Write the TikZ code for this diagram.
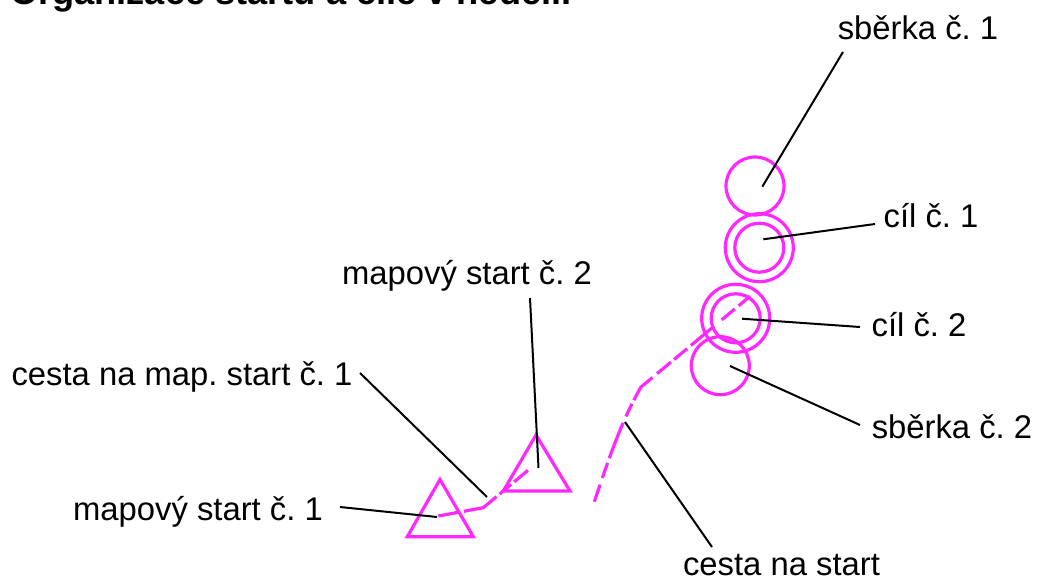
\documentclass[tikz,border=0pt]{standalone}
\usepackage{fontspec}
\setmainfont{Liberation Sans}
\frenchspacing
\definecolor{kurz}{RGB}{255,40,255}
\tikzset{
  % all labels
  popis/.style = {
    inner sep = 0,
    anchor = base,
    font = \fontsize{32.8}{38}\selectfont
  },
  % magenta course symbols
  znacka/.style = {
    draw = kurz,
    line width = 3.2
  },
  kruh/.style = {
    znacka,
    circle,
    inner sep = 0,
    minimum size = #1
  },
  vodic/.style = {
    draw = black,
    line width = 2
  }
}
\begin{document}
\begin{tikzpicture}[x=1pt,y=-1pt]
    \useasboundingbox (0,0) rectangle (1037,580);
    \node[inner sep=0,anchor=base west,font=\fontsize{36.2}{42}\selectfont\bfseries] (nadpis) at (10,5) {Organizace startu a cíle v neděli.};

    \node[popis] (sberka1) at (918,40) {sběrka č. 1};
    \node[popis] (cil1) at (931,228) {cíl č. 1};
    \node[popis] (cil2) at (919,337) {cíl č. 2};
    \node[popis] (sberka2) at (952,438) {sběrka č. 2};
    \node[popis] (mapstart2) at (467,285) {mapový start č. 2};
    \node[popis] (cestamap) at (182,385) {cesta na map. start č. 1};
    \node[popis] (mapstart1) at (198,520) {mapový start č. 1};
    \node[popis] (cestastart) at (781.5,575) {cesta na start};

    % controls
    \node[kruh=58] (kruh1) at (755,186) {};
    \node[kruh=68] (vnejsi1) at (759.3,247.7) {};
    \node[kruh=49] (vnitrni1) at (759.3,247.7) {};
    \node[kruh=68] (vnejsi2) at (735.7,318.3) {};
    \node[kruh=49] (vnitrni2) at (735.7,318.3) {};
    \node[kruh=58] (kruh2) at (720.3,365.7) {};

    % starts
    \draw[znacka] (440,479.5) -- (473.3,536.7) -- (407.3,536.7) -- cycle;
    \draw[znacka] (536,435) -- (570,491) -- (503.3,491) -- cycle;

    % routes
    \coordinate (a0) at (438.3,516);
    \coordinate (a1) at (483.3,507.7);
    \coordinate (a2) at (528.3,470);
    \coordinate (b0) at (594.3,501.7);
    \coordinate (b1) at (641,387);
    \coordinate (b2) at (750.7,295.7);
    \draw[znacka,dash pattern=on 20 off 6 on 37 off 4 on 15 off 4 on 18 off 50] (a0) -- (a1) -- (a2);
    \draw[znacka,dash pattern=on 18 off 7 on 16 off 5 on 38 off 7 on 14 off 4 on 30 off 6 on 18 off 4 on 17 off 5 on 30 off 10 on 17 off 5 on 15 off 50] (b0) .. controls (610,455) and (622,420) .. (b1) -- (b2);

    % leaders
    \coordinate (k1) at (762.3,186.7);
    \coordinate (k2) at (763.3,239.3);
    \coordinate (k3) at (742,318.7);
    \coordinate (k4) at (730,366);
    \coordinate (k5) at (625,422);
    \coordinate (k6) at (538.5,468);
    \coordinate (k7) at (437,517);
    \coordinate (k8) at (487,497);
    \draw[vodic] (843,52) -- (k1);
    \draw[vodic] (875,224) -- (k2);
    \draw[vodic] (860,327) -- (k3);
    \draw[vodic] (860,425) -- (k4);
    \draw[vodic] (712,547) -- (k5);
    \draw[vodic] (530,298) -- (k6);
    \draw[vodic] (340,507) -- (k7);
    \draw[vodic] (360,373) -- (k8);
\end{tikzpicture}
\end{document}
